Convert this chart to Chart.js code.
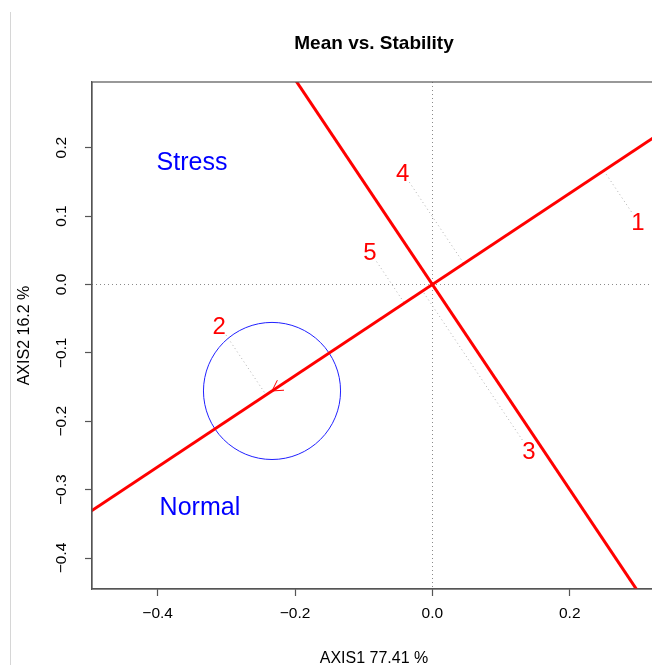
<!DOCTYPE html>
<html><head><meta charset="utf-8">
<script src="https://cdn.jsdelivr.net/npm/chart.js@4/dist/chart.umd.min.js"></script>
<style>
html,body{margin:0;padding:0;background:#fff;overflow:hidden;width:652px;height:665px}
#wrap{position:relative;width:652px;height:665px;overflow:hidden;background:#fff}
#edge{position:absolute;left:10px;top:12px;width:1px;bottom:0;background:#d6d6d6}
canvas{position:absolute;left:0;top:0}
</style></head><body>
<div id="wrap"><canvas id="c" width="670" height="665"></canvas><div id="edge"></div></div>
<script>
// ---- data ----
const genotypeLabels = ['1', '2', '3', '4', '5'];
const genotypeX = [0.2994, -0.3103, 0.1407, -0.0432, -0.0909];
const genotypeY = [0.0918, -0.0592, -0.2420, 0.1641, 0.0480];
const envLabels = ['Stress', 'Normal'];
const envX = [-0.3500, -0.3385];
const envY = [0.1806, -0.3239];
const aecPoint = [-0.2335, -0.1557];   // average environment coordinate
const aecRadius = 0.0998;
const xTicks = [-0.4, -0.2, 0.0, 0.2];
const yTicks = [-0.4, -0.3, -0.2, -0.1, 0.0, 0.1, 0.2];
const xRange = [-0.4956, 0.3256];
const yRange = [-0.4453, 0.2961];
const titleText = 'Mean vs. Stability';
const xTitleText = 'AXIS1 77.41 %';
const yTitleText = 'AXIS2 16.2 %';

const FONT = "'Liberation Sans', Arial, Helvetica, sans-serif";
const fmt = v => { const s = Number(v).toFixed(1); return s.replace('-', '\u2212'); };

// ATC abscissa through origin and AEC, and its perpendicular through origin
const ext = 10;
const atcLine = [{x: -ext * aecPoint[0], y: -ext * aecPoint[1]}, {x: ext * aecPoint[0], y: ext * aecPoint[1]}];
const perpLine = [{x: -ext * -aecPoint[1], y: -ext * aecPoint[0]}, {x: ext * -aecPoint[1], y: ext * aecPoint[0]}];

// draw text with the glyph (cap-height) centre at (px, py)
function centreText(ctx, text, px, py, size) {
  ctx.textAlign = 'center'; ctx.textBaseline = 'alphabetic';
  ctx.fillText(text, px, py + 0.358 * size);
}

const biplotPlugin = {
  id: 'biplot',
  beforeDatasetsDraw(chart) {
    const {ctx, chartArea: a, scales: {x, y}} = chart;
    ctx.save();
    ctx.beginPath(); ctx.rect(a.left, a.top, a.right - a.left, a.bottom - a.top); ctx.clip();
    // dotted zero axes
    ctx.strokeStyle = '#8a8a8a'; ctx.lineWidth = 1; ctx.setLineDash([1, 3]);
    const x0 = Math.round(x.getPixelForValue(0)) + 0.5, y0 = Math.round(y.getPixelForValue(0)) + 0.5;
    ctx.beginPath(); ctx.moveTo(x0, a.top); ctx.lineTo(x0, a.bottom); ctx.stroke();
    ctx.beginPath(); ctx.moveTo(a.left, y0); ctx.lineTo(a.right, y0); ctx.stroke();
    // projections of genotypes onto ATC
    ctx.strokeStyle = '#b0b0b0';
    const ax = aecPoint[0], ay = aecPoint[1];
    for (let i = 0; i < genotypeLabels.length; i++) {
      const t = (genotypeX[i] * ax + genotypeY[i] * ay) / (ax * ax + ay * ay);
      const px = x.getPixelForValue(genotypeX[i]), py = y.getPixelForValue(genotypeY[i]);
      const fx = x.getPixelForValue(t * ax), fy = y.getPixelForValue(t * ay);
      const d = Math.hypot(fx - px, fy - py), ux = (fx - px) / d, uy = (fy - py) / d;
      ctx.beginPath(); ctx.moveTo(px + ux * 12, py + uy * 12); ctx.lineTo(fx, fy); ctx.stroke();
    }
    ctx.setLineDash([]);
    // circle around AEC
    const cx = x.getPixelForValue(aecPoint[0]), cy = y.getPixelForValue(aecPoint[1]);
    const r = Math.abs(x.getPixelForValue(aecRadius) - x.getPixelForValue(0));
    ctx.strokeStyle = '#2020ff'; ctx.lineWidth = 1;
    ctx.beginPath(); ctx.arc(cx, cy, r, 0, Math.PI * 2); ctx.stroke();
    ctx.restore();
  },
  afterDatasetsDraw(chart) {
    const {ctx, chartArea: a, scales: {x, y}} = chart;
    ctx.save();
    // arrow head at AEC
    const ox = x.getPixelForValue(0), oy = y.getPixelForValue(0);
    const cx = x.getPixelForValue(aecPoint[0]), cy = y.getPixelForValue(aecPoint[1]);
    const ang = Math.atan2(oy - cy, ox - cx), L = 12, sp = Math.PI / 6;
    ctx.strokeStyle = '#ff0000'; ctx.lineWidth = 1;
    ctx.beginPath();
    ctx.moveTo(cx + L * Math.cos(ang + sp), cy + L * Math.sin(ang + sp));
    ctx.lineTo(cx, cy);
    ctx.lineTo(cx + L * Math.cos(ang - sp), cy + L * Math.sin(ang - sp));
    ctx.stroke();
    // genotype labels
    ctx.font = '24px ' + FONT; ctx.fillStyle = '#ff0000';
    genotypeLabels.forEach((l, i) => centreText(ctx, l, x.getPixelForValue(genotypeX[i]), y.getPixelForValue(genotypeY[i]), 24));
    // environment labels
    ctx.font = '25px ' + FONT; ctx.fillStyle = '#0000ff';
    envLabels.forEach((l, i) => centreText(ctx, l, x.getPixelForValue(envX[i]), y.getPixelForValue(envY[i]), 25));
    // frame
    ctx.strokeStyle = '#555'; ctx.lineWidth = 1.2;
    ctx.strokeRect(a.left, a.top, a.right - a.left, a.bottom - a.top);
    ctx.restore();
  },
  afterDraw(chart) {
    const {ctx, chartArea: a} = chart;
    ctx.save();
    ctx.fillStyle = '#000';
    const mid = (a.left + a.right) / 2;
    ctx.font = 'bold 19px ' + FONT;
    centreText(ctx, titleText, mid, 42, 19);
    ctx.font = '16px ' + FONT;
    centreText(ctx, xTitleText, mid, 657, 16);
    ctx.translate(23, (a.top + a.bottom) / 2); ctx.rotate(-Math.PI / 2);
    centreText(ctx, yTitleText, 0, 0, 16);
    ctx.restore();
  }
};

new Chart(document.getElementById('c'), {
  type: 'scatter',
  data: {
    datasets: [
      {data: atcLine, showLine: true, borderColor: '#ff0000', borderWidth: 3, pointRadius: 0, fill: false},
      {data: perpLine, showLine: true, borderColor: '#ff0000', borderWidth: 3, pointRadius: 0, fill: false}
    ]
  },
  options: {
    responsive: false, animation: false, devicePixelRatio: 1,
    layout: {padding: {top: 82, right: 14, left: 0, bottom: 0}},
    plugins: {legend: {display: false}, tooltip: {enabled: false}, title: {display: false}},
    scales: {
      x: {
        type: 'linear', min: xRange[0], max: xRange[1],
        afterBuildTicks: s => { s.ticks = xTicks.map(v => ({value: v})); },
        afterFit: s => { s.height = 76; },
        ticks: {callback: fmt, font: {family: FONT, size: 15.5}, color: '#000', padding: 8, maxRotation: 0, autoSkip: false},
        grid: {drawOnChartArea: false, drawTicks: true, tickLength: 7, color: '#555', tickWidth: 1.2},
        border: {display: true, color: '#555', width: 1.2}
      },
      y: {
        type: 'linear', min: yRange[0], max: yRange[1],
        afterBuildTicks: s => { s.ticks = yTicks.map(v => ({value: v})); },
        afterFit: s => { s.width = 92; },
        ticks: {callback: fmt, font: {family: FONT, size: 15.5}, color: '#000', padding: 8, minRotation: 90, maxRotation: 90, crossAlign: 'center', autoSkip: false},
        grid: {drawOnChartArea: false, drawTicks: true, tickLength: 7, color: '#555', tickWidth: 1.2},
        border: {display: true, color: '#555', width: 1.2}
      }
    }
  },
  plugins: [biplotPlugin]
});
</script>
</body></html>
